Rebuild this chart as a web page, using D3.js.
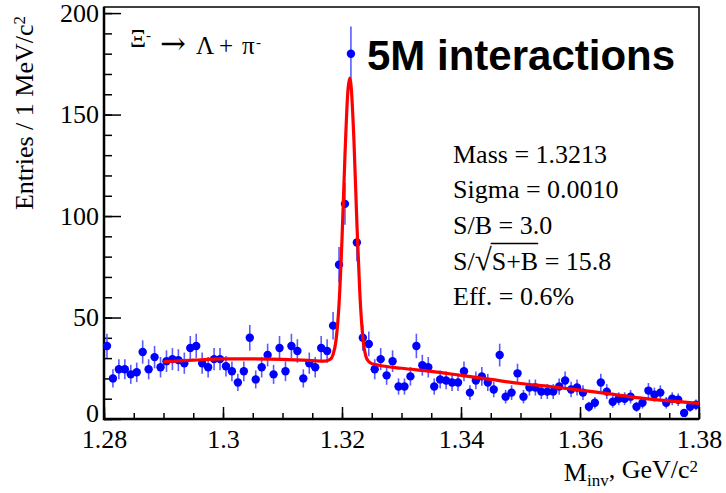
<!DOCTYPE html>
<html>
<head>
<meta charset="utf-8">
<script src="https://cdn.jsdelivr.net/npm/d3@7"></script>
<style>
  body { margin: 0; background: #fff; }
  svg { display: block; }
  .axis text { font-family: "Liberation Serif", "Times New Roman", serif; font-size: 26px; fill: #000; }
  .axis path.domain { display: none; }
  .axis line { stroke: #000; stroke-width: 1.5; }
</style>
</head>
<body>
<div id="chart"></div>
<script>
// histogram: 100 bins of 1 MeV between 1.28 and 1.38 GeV
var binLow = 1.28, binWidth = 0.001;
var counts = [
  36, 20, 24.5, 24.5, 22, 23, 33, 24.5, 30.5, 25.5,
  28.5, 29.5, 29, 27.5, 35, 36, 27.5, 25.5, 29.5, 29.5,
  26, 23.5, 18, 23.5, 40, 19.5, 25.5, 31.5, 22, 35,
  23.5, 36, 33.5, 20, 27.5, 25.5, 35, 33.5, 46, 76,
  106, 180, 87, 40, 37, 24.5, 29.5, 21.5, 28.5, 16,
  16, 21, 36, 26.5, 25.5, 16, 19.5, 19, 18, 18,
  23.5, 13, 19, 21, 18, 14.5, 31.5, 11, 13, 22.5,
  11, 15.5, 15.5, 13.5, 13.5, 13.5, 16, 19, 14.5, 15.5,
  13, 6, 8, 18, 13.5, 8.5, 10, 10, 11, 6,
  8, 14, 12, 13, 8, 10, 9.5, 3, 6, 7
];

// fitted curve
var fitX = [1.290, 1.295, 1.300, 1.305, 1.310, 1.315, 1.317, 1.318, 1.3185, 1.319,
            1.3195, 1.320, 1.3205, 1.321, 1.3213, 1.3215, 1.322, 1.3225, 1.323, 1.3235,
            1.324, 1.3245, 1.325, 1.326, 1.330, 1.335, 1.340, 1.345, 1.350, 1.355,
            1.360, 1.365, 1.370, 1.375, 1.380];
var fitY = [28.2, 29.0, 29.6, 29.6, 29.4, 28.8, 28.5, 29.4, 31.8, 38.9,
            56.5, 88.7, 130, 162, 168, 165, 137.8, 96.7, 61.8, 40.3,
            31, 28.3, 27.3, 26.6, 25, 23.5, 21.5, 19.5, 17.5, 16,
            14.2, 12.4, 10.4, 8.9, 7.7];

var xMajor = [1.28, 1.30, 1.32, 1.34, 1.36, 1.38];
var yMajor = [0, 50, 100, 150, 200];
var statLines = ["Mass = 1.3213", "Sigma = 0.0010", "S/B = 3.0", "SQRT", "Eff. = 0.6%"];

var width = 726, height = 493;
var frame = { left: 104, right: 699, top: 7, bottom: 419 };

var x = d3.scaleLinear().domain([1.28, 1.38]).range([frame.left, frame.right]);
var y = d3.scaleLinear().domain([0, 203]).range([frame.bottom, frame.top]);

var svg = d3.select("#chart").append("svg")
    .attr("width", width)
    .attr("height", height);

var serif = '"Liberation Serif", "Times New Roman", serif';

// minor ticks
svg.append("g")
    .attr("class", "axis")
    .attr("transform", "translate(0," + frame.bottom + ")")
    .call(d3.axisBottom(x).tickValues(d3.range(0, 21).map(function(i) { return 1.28 + i * 0.005; }))
        .tickSize(-6).tickFormat(""));
svg.append("g")
    .attr("class", "axis")
    .attr("transform", "translate(" + frame.left + ",0)")
    .call(d3.axisLeft(y).tickValues(d3.range(0, 201, 10)).tickSize(-8).tickFormat(""));

// major ticks + labels
svg.append("g")
    .attr("class", "axis x")
    .attr("transform", "translate(0," + frame.bottom + ")")
    .call(d3.axisBottom(x).tickValues(xMajor).tickSize(-12).tickPadding(11)
        .tickFormat(d3.format(".2~f")));
svg.append("g")
    .attr("class", "axis y")
    .attr("transform", "translate(" + frame.left + ",0)")
    .call(d3.axisLeft(y).tickValues(yMajor).tickSize(-17).tickPadding(5));
// "0" sits a little high so it does not run into 1.28
svg.selectAll(".axis.y .tick text").filter(function(d) { return d === 0; })
    .attr("dy", "0.1em");

// frame
svg.append("rect")
    .attr("x", frame.left).attr("y", frame.top)
    .attr("width", frame.right - frame.left)
    .attr("height", frame.bottom - frame.top)
    .attr("fill", "none")
    .attr("stroke", "#000")
    .attr("stroke-width", 1.5);
svg.append("path")
    .attr("d", "M" + frame.left + "," + frame.top + "V" + frame.bottom + "H" + frame.right)
    .attr("fill", "none")
    .attr("stroke", "#000")
    .attr("stroke-width", 2.5);

// data points with poisson error bars
var points = svg.append("g").attr("class", "points");
var bins = counts.map(function(c, i) { return { x: binLow + (i + 0.5) * binWidth, n: c }; });

points.selectAll("line.err").data(bins).enter()
    .append("line")
    .attr("class", "err")
    .attr("x1", function(d) { return x(d.x); })
    .attr("x2", function(d) { return x(d.x); })
    .attr("y1", function(d) { return y(d.n + Math.sqrt(d.n)); })
    .attr("y2", function(d) { return y(Math.max(0, d.n - Math.sqrt(d.n))); })
    .attr("stroke", "#5a5aff")
    .attr("stroke-width", 1.6);

// fit curve
var line = d3.line()
    .x(function(d) { return x(d[0]); })
    .y(function(d) { return y(d[1]); })
    .curve(d3.curveMonotoneX);
svg.append("path")
    .datum(fitX.map(function(v, i) { return [v, fitY[i]]; }))
    .attr("d", line)
    .attr("fill", "none")
    .attr("stroke", "#ff0000")
    .attr("stroke-width", 3.2)
    .attr("stroke-linejoin", "round");

points.selectAll("circle").data(bins).enter()
    .append("circle")
    .attr("cx", function(d) { return x(d.x); })
    .attr("cy", function(d) { return y(d.n); })
    .attr("r", 4.2)
    .attr("fill", "#0000ff");

// axis titles
var yTitle = svg.append("text")
    .attr("transform", "translate(33,16) rotate(-90)")
    .attr("text-anchor", "end")
    .style("font-family", serif)
    .style("font-size", "26px");
yTitle.append("tspan").text("Entries / 1 MeV/c");
yTitle.append("tspan").attr("dy", "-0.45em").style("font-size", "17px").text("2");

var xTitle = svg.append("text")
    .attr("x", 698).attr("y", 481)
    .attr("text-anchor", "end")
    .style("font-family", serif)
    .style("font-size", "26px");
xTitle.append("tspan").text("M");
xTitle.append("tspan").attr("dy", "0.3em").style("font-size", "17px").text("inv");
xTitle.append("tspan").attr("dy", "-0.3em").text(", GeV/c");
xTitle.append("tspan").attr("dy", "-0.38em").style("font-size", "17px").text("2");

// decay label
var decay = svg.append("text")
    .attr("y", 47)
    .style("font-family", serif)
    .style("font-size", "25px");
decay.append("tspan").attr("x", 130).text("\u039E");
decay.append("tspan").attr("x", 146).attr("dy", "-0.45em").style("font-size", "15px").text("-");
decay.append("tspan").attr("x", 160).attr("dy", "0.45em")
    .style("font-family", '"DejaVu Serif", serif').style("font-size", "31px").text("\u2192");
decay.append("tspan").attr("x", 196).text("\u039B");
decay.append("tspan").attr("x", 219).text("+");
decay.append("tspan").attr("x", 242).text("\u03C0");
decay.append("tspan").attr("x", 256).attr("dy", "-0.45em").style("font-size", "15px").text("-");

svg.append("text")
    .attr("x", 367).attr("y", 70)
    .style("font-family", '"Liberation Sans", Arial, sans-serif')
    .style("font-weight", "bold")
    .style("font-size", "42px")
    .text("5M interactions");

// fit results
var statY = [163, 198, 234, 270, 305];
statLines.forEach(function(s, i) {
  var t = svg.append("text")
      .attr("x", 453).attr("y", statY[i])
      .style("font-family", serif)
      .style("font-size", "26px");
  if (s !== "SQRT") { t.text(s); return; }
  t.append("tspan").text("S/");
  t.append("tspan").style("font-size", "31px").text("\u221A");
  t.append("tspan").text("S+B");
  t.append("tspan").text(" = 15.8");
  var node = t.node();
  var start = node.getEndPositionOfChar(2).x;
  var end = node.getEndPositionOfChar(5).x;
  svg.append("line")
      .attr("x1", start - 1).attr("x2", end)
      .attr("y1", statY[i] - 26.5).attr("y2", statY[i] - 26.5)
      .attr("stroke", "#000").attr("stroke-width", 1.3);
});
</script>
</body>
</html>
